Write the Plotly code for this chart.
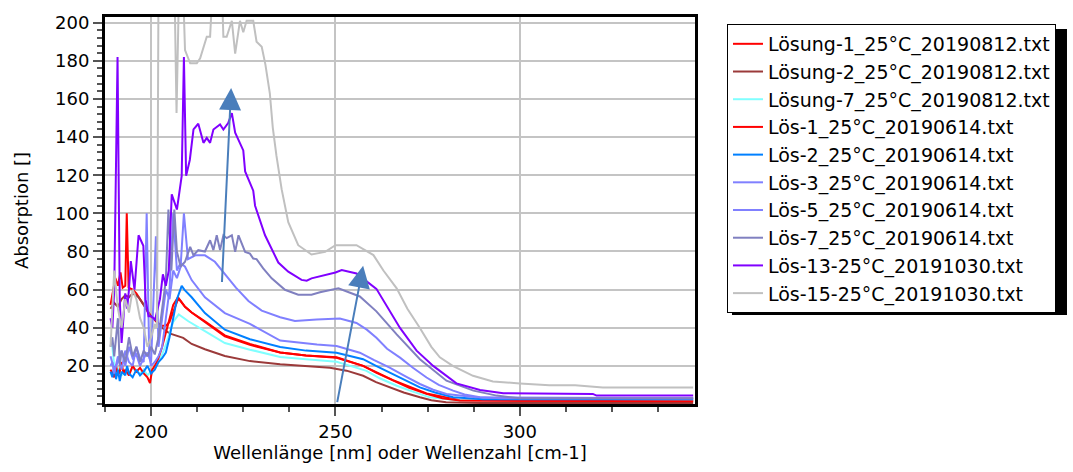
import plotly.graph_objects as go

# ---------------- data (wavelength nm / absorption) ----------------
loesung1_nm = [189, 189.7, 190.3, 191, 191.7, 192.3, 193, 193.4, 193.9, 195, 196, 197, 198, 199, 200, 201, 202, 203, 204, 205, 206, 207.3, 208, 209.2, 211, 214.6, 220, 226.8, 235, 242, 250.3, 257.5, 265.6, 274.7, 283.7, 300, 347]
loesung1_abs = [52, 60, 66, 62, 69, 61, 62, 100, 61, 60, 58, 55, 52, 49, 46, 44, 42, 41, 41, 43, 48, 55, 54, 51, 48, 43, 35.5, 31, 27, 25.5, 24.5, 20, 12.5, 5.5, 2, 1.6, 1.6]

loesung2_nm = [189, 190, 191, 192, 193, 194, 195, 196.6, 198, 199.5, 201.5, 203, 205, 208.7, 211, 214.6, 220, 226.8, 235, 242, 248.5, 253, 257.5, 261, 264.7, 268.5, 272.9, 276, 280, 290, 347]
loesung2_abs = [50, 53, 51, 55, 57, 56, 58, 56, 52, 47, 43.4, 40, 37, 34.7, 31.5, 28.7, 25.2, 22.5, 20.9, 20, 19, 17.5, 14.8, 11.5, 8.7, 6, 3.5, 2, 0.9, 0.5, 0.5]

loesung7_nm = [189, 189.5, 190, 190.5, 191, 192, 193, 194, 195, 196, 197, 198, 199, 200, 201, 202, 203, 204, 205, 206, 207.5, 209, 210.1, 214.6, 220, 226.8, 235, 242, 250.3, 254, 258.4, 262, 266.6, 271, 275.6, 283, 347]
loesung7_abs = [35, 30, 20, 17, 19, 15, 18, 16, 19, 17, 16, 18, 15, 17, 19, 22, 26, 31, 37, 43, 47, 45, 43.4, 38.2, 32, 28.5, 24.7, 23.5, 22.2, 20, 17.4, 13.5, 9.6, 6.5, 3.5, 2, 2]

loes1_nm = [189, 189.5, 190, 190.5, 191, 191.5, 192, 192.5, 193, 194, 195, 196, 197, 198, 199, 199.7, 200.3, 201, 202, 203, 204, 205, 206, 207.3, 208, 209.2, 211, 214.6, 220, 226.8, 235, 242, 250.3, 257.5, 261, 265.6, 270, 274.7, 279, 283.7, 347]
loes1_abs = [18, 16, 14, 20, 15, 17, 22, 16, 18, 15, 20, 17, 19, 16, 14, 11, 18, 20, 24, 30, 37, 45, 52, 56, 54, 51, 48, 43.4, 36, 31.5, 27, 25.5, 24.3, 20, 16.5, 12.2, 8.5, 5.3, 3, 1.8, 1.5]

loes2_nm = [189, 189.5, 190, 190.5, 191, 191.5, 192, 193, 193.5, 194, 195, 196, 197, 198, 199, 200, 201, 202, 203, 204, 205, 206, 207, 208.3, 209, 211, 214.6, 220, 226.8, 235, 242, 250.3, 257.5, 261, 264.7, 269, 272.9, 277, 281.9, 290, 347]
loes2_abs = [17, 14, 20, 13, 18, 12, 17, 15, 20, 16, 14, 18, 15, 17, 20, 16, 18, 22, 24, 27, 35, 45, 55, 62, 60, 56, 47.7, 39, 34, 29.9, 28, 26.9, 23.5, 20, 16.5, 12.5, 8.7, 6, 3.5, 2.5, 2.5]

loes3_nm = [189, 189.5, 190, 191, 192, 193, 194, 195, 196, 197, 198, 198.8, 199.5, 200, 201, 202, 203, 204, 205, 206, 207, 208, 209.2, 211, 214.6, 220, 226.8, 235, 240.4, 245, 250.3, 256.6, 260.5, 264.7, 269, 272.9, 276.5, 280.1, 288, 347]
loes3_abs = [20, 22, 16, 25, 18, 28, 22, 20, 30, 24, 22, 100, 25, 20, 22, 25, 30, 45, 60, 100, 70, 74, 72, 65, 56, 47.7, 42, 33.3, 32.1, 31.2, 30.4, 26.9, 23, 19.1, 14.5, 10.5, 7.5, 5.3, 3.5, 3]

loes5_nm = [189, 190, 191, 192, 193, 194, 195, 196, 197, 198, 199, 200, 201.3, 202, 203, 204, 205, 206, 207, 208, 208.9, 210, 212, 214.6, 217.3, 220, 223, 226.4, 230, 235, 239, 244.9, 251.2, 255.7, 258.5, 261.1, 264, 267.5, 271, 274.7, 278, 281.9, 285, 289.2, 295, 347]
loes5_abs = [25, 18, 22, 28, 20, 30, 24, 26, 20, 24, 27, 22, 88, 30, 45, 60, 55, 70, 66, 72, 100, 76, 78, 78, 74.6, 68, 61, 54, 49, 45.5, 43.5, 44.3, 44.8, 42.5, 39, 34.7, 29, 24.3, 19, 13.9, 10, 7, 5, 3.5, 3, 3]

loes7_nm = [189, 189.5, 190, 191, 191.5, 192, 193, 194, 195, 196, 197, 198, 199, 200, 201, 202, 203, 204, 204.7, 205.5, 206.3, 207, 208, 209.2, 210.6, 211.5, 212.8, 214.6, 216, 216.9, 217.8, 218.7, 219.6, 220.5, 221.9, 222.8, 223.7, 225.5, 226.8, 227.7, 228.6, 230.4, 232.7, 236.3, 239.9, 243.5, 245.8, 250.8, 256.6, 261.1, 266.6, 272.9, 280.1, 287.4, 293.7, 300, 347]
loes7_abs = [30, 35, 25, 45, 20, 28, 22, 35, 25, 30, 22, 28, 25, 30, 26, 35, 50, 65, 102, 70, 102, 80, 72, 74.6, 82.4, 78, 80.7, 80, 85.9, 80.7, 88.5, 80.7, 88.5, 87, 88.5, 79.8, 88.5, 79.8, 78.9, 76.3, 76, 71.1, 65.9, 59.9, 57.3, 57.3, 58.6, 60.7, 56.4, 48.6, 36.5, 23.5, 12.2, 7, 4.4, 3, 3]

loes13_nm = [189, 189.5, 190, 190.9, 191.5, 192, 192.5, 193, 193.5, 194, 194.5, 195.5, 196.6, 197.9, 198.5, 199.3, 200, 201.1, 202.4, 203.2, 204, 204.8, 205.6, 207, 208.3, 208.9, 209.5, 210.5, 211.5, 212.8, 214.2, 215.1, 216, 216.9, 218.7, 219.6, 220.9, 221.9, 222.8, 225, 225.5, 227.7, 228.2, 230.9, 234.5, 237.2, 240.8, 242.2, 243.5, 247.2, 250, 251.7, 255.7, 261.1, 264, 267.5, 272, 276.5, 278.3, 282.8, 289.2, 295.5, 319.8, 320.8, 347]
loes13_abs = [45, 40, 60, 182, 55, 32, 45, 58, 50, 60, 75, 60, 88.5, 83, 55, 46, 46, 44.3, 55, 68, 62, 70, 110, 102, 119.7, 182, 119.7, 128, 144, 147, 137, 139.6, 137, 144, 146.6, 144, 147.4, 152.6, 142.3, 133, 122, 111.9, 104, 88.5, 74.2, 69.4, 65.1, 64.7, 65.9, 67.7, 69, 70.3, 68.5, 60.4, 51, 39.9, 28, 20, 17.4, 10.8, 7.3, 5.6, 5.3, 4.4, 4.4]

loes15_nm = [189, 189.5, 190, 190.5, 191, 192, 193, 194, 195, 196, 197, 198, 199, 200, 201, 201.6, 202.1, 206, 206.9, 208, 209.2, 210.6, 212.4, 213.3, 215.1, 216, 217, 219, 219.6, 220.5, 221.9, 222.8, 224.1, 225, 225.9, 227.7, 228.6, 230, 231, 232.2, 233, 234, 235.4, 237.2, 239.9, 243.5, 247.2, 250, 255.7, 260.3, 263, 266.6, 269.5, 272.9, 276, 278.3, 281.8, 287.3, 292.7, 300, 308, 315, 322.5, 347]
loes15_abs = [30, 55, 70, 60, 50, 40, 55, 48, 60, 55, 45, 40, 30, 35, 42, 40, 260, 260, 152.6, 260, 185.6, 178.7, 178.7, 181.3, 192.6, 192.6, 230, 230, 192.6, 192.6, 201, 183.8, 201, 195, 201, 201, 190, 187.4, 178, 163, 145, 130.1, 112.7, 95.4, 83.3, 78.4, 79.8, 83.3, 83.3, 78.1, 70, 60.7, 50, 39.9, 30, 24.5, 20, 14.8, 11.8, 10.8, 9.9, 9.9, 8.7, 8.7]

series_names = [
    "Lösung-1_25°C_20190812.txt",
    "Lösung-2_25°C_20190812.txt",
    "Lösung-7_25°C_20190812.txt",
    "Lös-1_25°C_20190614.txt",
    "Lös-2_25°C_20190614.txt",
    "Lös-3_25°C_20190614.txt",
    "Lös-5_25°C_20190614.txt",
    "Lös-7_25°C_20190614.txt",
    "Lös-13-25°C_20191030.txt",
    "Lös-15-25°C_20191030.txt",
]
series_x = [loesung1_nm, loesung2_nm, loesung7_nm, loes1_nm, loes2_nm, loes3_nm, loes5_nm, loes7_nm, loes13_nm, loes15_nm]
series_y = [loesung1_abs, loesung2_abs, loesung7_abs, loes1_abs, loes2_abs, loes3_abs, loes5_abs, loes7_abs, loes13_abs, loes15_abs]
series_colors = ["#FF0000", "#9B3A3A", "#80FFFF", "#FF0000", "#0080FF",
                 "#8080FF", "#8080FF", "#8080C0", "#8000FF", "#C0C0C0"]

x_ticks = [200, 250, 300]
y_ticks = [20, 40, 60, 80, 100, 120, 140, 160, 180, 200]

# arrows: (tail_x, tail_y, tip_x, tip_y) in data units
arrow_tails_x = [219.2, 250.4]
arrow_tails_y = [63.2, 0.2]
arrow_tips_x = [221.7, 257.5]
arrow_tips_y = [165.7, 72.5]

FONT = "DejaVu Sans"

fig = go.Figure()
for name, xs, ys, col in zip(series_names, series_x, series_y, series_colors):
    fig.add_trace(go.Scatter(x=xs, y=ys, mode="lines", name=name, legendgroup=name,
                             line=dict(color=col, width=2)))

for tx, ty, hx, hy in zip(arrow_tails_x, arrow_tails_y, arrow_tips_x, arrow_tips_y):
    fig.add_annotation(x=hx, y=hy, ax=tx, ay=ty, xref="x", yref="y", axref="x", ayref="y",
                       text="", showarrow=True, arrowhead=2, arrowsize=2.2, arrowwidth=2,
                       arrowcolor="#4A7EBB")

# legend drop shadow
fig.add_shape(type="rect", xref="paper", yref="paper",
              x0=1.0627, x1=1.6305, y0=0.2302, y1=0.9693,
              fillcolor="black", line=dict(width=0), layer="below")

fig.update_layout(
    width=1073, height=472,
    margin=dict(l=105, r=378, t=13, b=68),
    paper_bgcolor="white", plot_bgcolor="white",
    font=dict(family=FONT, size=18, color="black"),
    showlegend=True,
    legend=dict(x=1.0542, y=0.982, xanchor="left", yanchor="top",
                bgcolor="white", bordercolor="black", borderwidth=1,
                font=dict(family=FONT, size=19, color="black"),
                tracegroupgap=0, itemwidth=30),
    xaxis=dict(range=[187.5, 347.5], tickmode="array", tickvals=x_ticks,
               ticks="outside", ticklen=9, tickwidth=1.5, tickcolor="#555",
               showline=True, linecolor="black", linewidth=3, mirror=True,
               showgrid=True, gridcolor="#C4C4C4", gridwidth=1.5, zeroline=False,
               minor=dict(tickmode="linear", tick0=200, dtick=12.5, ticks="outside",
                          ticklen=5, tickwidth=1.5, tickcolor="#555", showgrid=False),
               tickfont=dict(family=FONT, size=18, color="black"),
               title=dict(text="Wellenlänge [nm] oder Wellenzahl [cm-1]", standoff=6,
                          font=dict(family=FONT, size=18, color="black"))),
    yaxis=dict(range=[0, 203], tickmode="array", tickvals=y_ticks,
               ticks="outside", ticklen=9, tickwidth=1.5, tickcolor="#555",
               showline=True, linecolor="black", linewidth=3, mirror=True,
               showgrid=True, gridcolor="#C4C4C4", gridwidth=1.5, zeroline=False,
               minor=dict(tickmode="linear", tick0=0, dtick=4, ticks="outside",
                          ticklen=5, tickwidth=1.5, tickcolor="#555", showgrid=False),
               tickfont=dict(family=FONT, size=18, color="black"),
               title=dict(text="Absorption []", standoff=22,
                          font=dict(family=FONT, size=18, color="black"))),
)

fig.write_html("out.html", config={"displayModeBar": False},
               post_script="document.body.style.margin='0';")
